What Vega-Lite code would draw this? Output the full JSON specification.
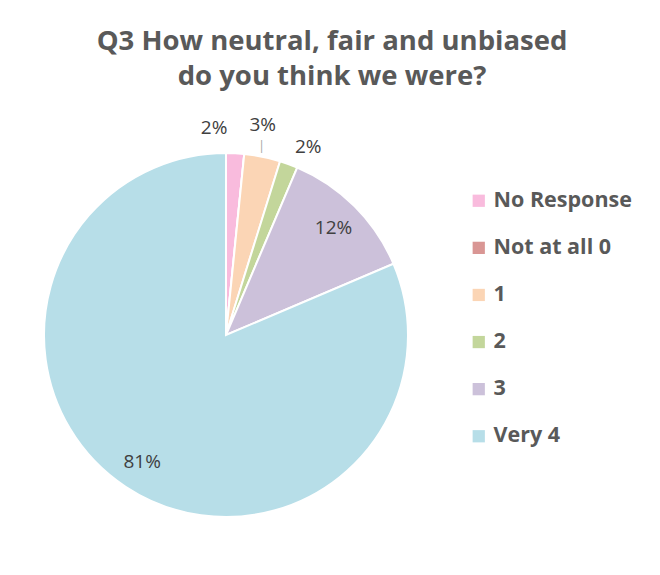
{
  "$schema": "https://vega.github.io/schema/vega-lite/v6.json",
  "width": 372,
  "height": 370,
  "autosize": {"type": "none"},
  "padding": {"left": 40, "top": 150, "right": 248, "bottom": 55},
  "background": "white",
  "config": {"view": {"stroke": null}},
  "title": {
    "text": ["Q3 How neutral, fair and unbiased", "do you think we were?"],
    "font": "Open Sans",
    "fontSize": 27.5,
    "fontWeight": "bold",
    "color": "#595959",
    "anchor": "middle",
    "baseline": "alphabetic",
    "lineHeight": 35,
    "dx": 106,
    "offset": 0
  },
  "data": {
    "values": [
      {"category": "No Response", "pct": 1.6, "label": "2%"},
      {"category": "Not at all 0", "pct": 0, "label": ""},
      {"category": "1", "pct": 3.2, "label": "3%"},
      {"category": "2", "pct": 1.6, "label": "2%"},
      {"category": "3", "pct": 12.2, "label": "12%"},
      {"category": "Very 4", "pct": 81.4, "label": "81%"}
    ]
  },
  "transform": [
    {"calculate": "indexof(['No Response', 'Not at all 0', '1', '2', '3', 'Very 4'], datum.category)", "as": "rank"}
  ],
  "encoding": {
    "theta": {"field": "pct", "type": "quantitative", "stack": true},
    "order": {"field": "rank", "type": "quantitative", "sort": "ascending"}
  },
  "layer": [
    {
      "mark": {"type": "arc", "outerRadius": 182, "stroke": "white", "strokeWidth": 2},
      "encoding": {
        "color": {
          "field": "category",
          "type": "nominal",
          "scale": {
            "domain": ["No Response", "Not at all 0", "1", "2", "3", "Very 4"],
            "range": ["#F9BBDD", "#D99694", "#FBD5B5", "#C3D69B", "#CCC1DA", "#B7DEE8"]
          },
          "legend": {
            "title": null,
            "orient": "none",
            "legendX": 428,
            "legendY": 40,
            "symbolType": "square",
            "symbolSize": 150,
            "symbolStrokeWidth": 0,
            "labelFont": "Open Sans",
            "labelFontSize": 21.5,
            "labelFontWeight": "bold",
            "labelColor": "#595959",
            "labelOffset": 4,
            "rowPadding": 24.1,
            "labelLimit": 300
          }
        }
      }
    },
    {
      "mark": {"type": "text", "radius": 152, "font": "Open Sans", "fontSize": 19, "color": "#404040"},
      "encoding": {
        "text": {"condition": {"test": "datum.category === '3' || datum.category === 'Very 4'", "field": "label"}, "value": ""}
      }
    },
    {
      "mark": {"type": "text", "radius": 214, "dx": -6, "font": "Open Sans", "fontSize": 19, "color": "#404040"},
      "encoding": {
        "text": {"condition": {"test": "datum.category === '1'", "field": "label"}, "value": ""}
      }
    },
    {
      "mark": {"type": "text", "radius": 193, "dx": -3, "font": "Open Sans", "fontSize": 13, "color": "#A6A6A6"},
      "encoding": {
        "text": {"condition": {"test": "datum.category === '1'", "value": "|"}, "value": ""}
      }
    },
    {
      "mark": {"type": "text", "radius": 200, "align": "left", "font": "Open Sans", "fontSize": 19, "color": "#404040"},
      "encoding": {
        "text": {"condition": {"test": "datum.category === '2'", "field": "label"}, "value": ""}
      }
    },
    {
      "mark": {"type": "text", "radius": 207, "align": "right", "dx": -9, "font": "Open Sans", "fontSize": 19, "color": "#404040"},
      "encoding": {
        "text": {"condition": {"test": "datum.category === 'No Response'", "field": "label"}, "value": ""}
      }
    }
  ]
}
